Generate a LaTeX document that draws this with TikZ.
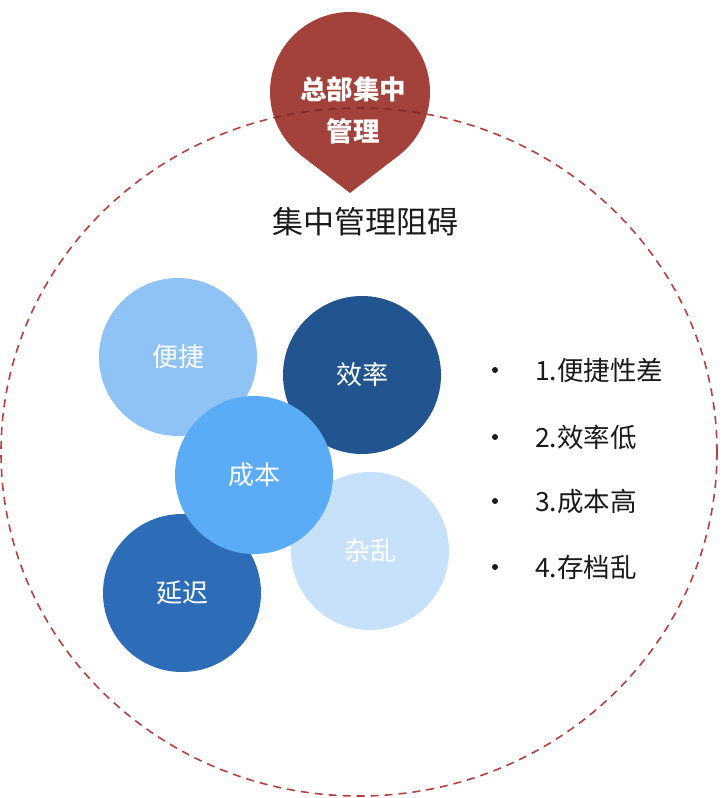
\documentclass[tikz,border=0pt]{standalone}
\usepackage{fontspec}
\setmainfont{Noto Sans CJK SC}
\definecolor{pinred}{HTML}{A3423A}
\definecolor{dashred}{HTML}{B5403F}
\definecolor{dashdark}{HTML}{7E2A26}
\definecolor{cA}{HTML}{8FC3F5}
\definecolor{cB}{HTML}{22548F}
\definecolor{cC}{HTML}{5BACF6}
\definecolor{cD}{HTML}{C6E1F9}
\definecolor{cE}{HTML}{2D6DB7}
\definecolor{txt}{HTML}{1A1A1A}
\tikzset{
  bubble/.style={circle, minimum size=158pt, inner sep=0pt, text=white, font=\fontsize{26}{30}\selectfont},
  listitem/.style={anchor=west, inner sep=0pt, text=txt, font=\fontsize{26.5}{30}\selectfont},
  bulletdot/.style={circle, fill=txt, minimum size=6pt, inner sep=0pt},
  ringline/.style={line width=1.6pt, dash pattern=on 8pt off 6pt},
}
\begin{document}
\begin{tikzpicture}[x=1pt,y=-1pt]
\useasboundingbox (0,0) rectangle (726,798);
% pin
\coordinate (pc) at (350,92);
\coordinate (pt) at (350,193);
\coordinate (pl) at (301.2,155.4);
\coordinate (pr) at (398.8,155.4);
\coordinate (ec) at (359,452);
\fill[pinred] (pc) circle (80pt);
\fill[pinred] (pt) -- (pl) -- (pc) -- (pr) -- cycle;
% dashed ellipse
\draw[dashred, ringline] (ec) ellipse [x radius=358pt, y radius=344pt];
\begin{scope}
  \clip (pc) circle (79pt);
  \draw[dashdark, ringline] (ec) ellipse [x radius=358pt, y radius=344pt];
\end{scope}
\node[text=white, align=center, inner sep=0pt, font=\fontsize{26.5}{42}\selectfont\bfseries] (pintext) at (353,110) {总部集中\\管理};
% title
\node[text=txt, inner sep=0pt, font=\fontsize{31}{36}\selectfont] (title) at (365,222) {集中管理阻碍};
% bubbles
\node[bubble, fill=cA] (bj) at (178,357) {便捷};
\node[bubble, fill=cB] (xl) at (362,375) {效率};
\node[bubble, fill=cD] (zl) at (370,551) {杂乱};
\node[bubble, fill=cE] (yc) at (182,593) {延迟};
\node[bubble, fill=cC] (cb) at (254,475) {成本};
% list
\node[bulletdot] (b1) at (495,370) {};
\node[bulletdot] (b2) at (495,437) {};
\node[bulletdot] (b3) at (495,501) {};
\node[bulletdot] (b4) at (495,567) {};
\node[listitem] (l1) at (535,370) {1.便捷性差};
\node[listitem] (l2) at (535,437) {2.效率低};
\node[listitem] (l3) at (535,501) {3.成本高};
\node[listitem] (l4) at (535,567) {4.存档乱};
\end{tikzpicture}
\end{document}
